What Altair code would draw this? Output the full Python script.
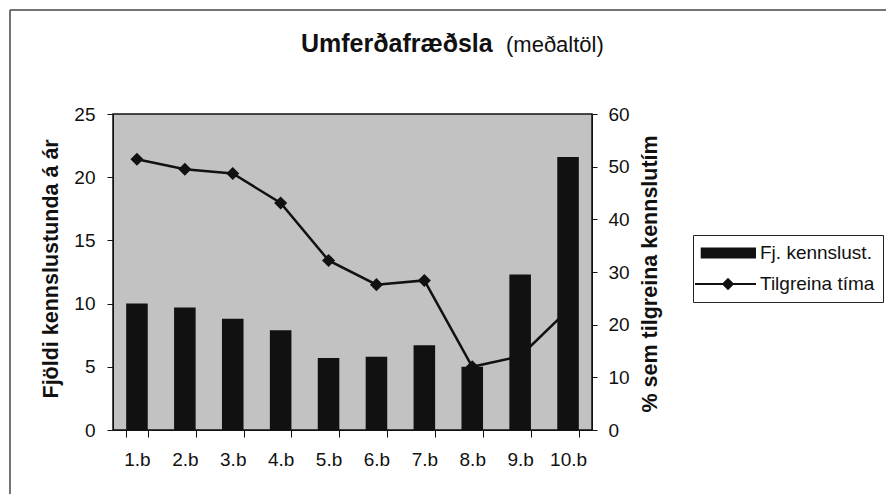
import altair as alt
import pandas as pd

categories = ["1.b", "2.b", "3.b", "4.b", "5.b", "6.b", "7.b", "8.b", "9.b", "10.b"]
kennslust = [10.0, 9.7, 8.8, 7.9, 5.7, 5.8, 6.7, 5.0, 12.3, 21.6]
tilgreina = [51.4, 49.5, 48.7, 43.1, 32.2, 27.6, 28.4, 12.0, 14.0, 22.8]
left_ticks = [0, 5, 10, 15, 20, 25]
right_ticks = [0, 10, 20, 30, 40, 50, 60]
series_names = ["Fj. kennslust.", "Tilgreina tíma"]

FONT = "Liberation Sans"
W, H = 479, 316

df_bar = pd.DataFrame({"flokkur": categories, "val": kennslust, "series": series_names[0]})
df_line = pd.DataFrame({"flokkur": categories, "val": tilgreina, "series": series_names[1]})

def xenc():
    return alt.X(
        "flokkur:N", sort=categories,
        scale=alt.Scale(paddingInner=0.55, paddingOuter=0.275),
        axis=alt.Axis(title=None, labelAngle=0, tickBand="extent", tickSize=7,
                      labelPadding=13, labelFontSize=19, labelFont=FONT,
                      labelColor="#111", domainColor="#111", tickColor="#111",
                      grid=False),
    )

right_axis = alt.Axis(
    orient="right", values=right_ticks, tickSize=5, labelPadding=11,
    labelFontSize=19, labelFont=FONT, labelColor="#111", domainColor="#111",
    tickColor="#111", grid=False,
    title="% sem tilgreina kennslutím", titleFont=FONT, titleFontSize=21.5,
    titleFontWeight="bold", titleColor="#111", titleAngle=270,
    titleX=58, titleY=298, titleAlign="left", titleBaseline="middle",
)
left_axis = alt.Axis(
    orient="left", values=left_ticks, tickSize=6, labelPadding=12,
    labelFontSize=19, labelFont=FONT, labelColor="#111", domainColor="#111",
    tickColor="#111", grid=False,
    title="Fjöldi kennslustunda á ár", titleFont=FONT, titleFontSize=21.5,
    titleFontWeight="bold", titleColor="#111", titleAngle=270,
    titleX=-62, titleY=284, titleAlign="left", titleBaseline="middle",
)

yr = alt.Y("val:Q", scale=alt.Scale(domain=[0, 60], nice=False), axis=right_axis)

line = alt.Chart(df_line).mark_line(color="#111", strokeWidth=2.5).encode(x=xenc(), y=yr)
points = alt.Chart(df_line).mark_point(shape="diamond", filled=True, size=170,
                                        color="#111", opacity=1).encode(x=xenc(), y=yr)

bar_sym = "M-1.03,-0.55H4.5V0.55H-1.03Z"
line_sym = "M-1.6,-0.1H4.5V0.1H-1.6ZM1.7,-0.62L2.32,0L1.7,0.62L1.08,0Z"
legend_pts = alt.Chart(df_line).mark_point(filled=True, opacity=0, color="#111").encode(
    x=xenc(), y=yr,
    shape=alt.Shape("series:N",
                    scale=alt.Scale(domain=series_names, range=[bar_sym, line_sym]),
                    legend=alt.Legend(
                        title=None, orient="none", legendX=580, legendY=121,
                        labelFont=FONT, labelFontSize=19, labelColor="#111",
                        labelOffset=39, labelLimit=400, padding=8, rowPadding=11,
                        symbolSize=400, symbolOpacity=1, symbolFillColor="#111",
                        symbolStrokeColor="#111", symbolStrokeWidth=0,
                        strokeColor="#222", fillColor="white",
                    )),
)

line_layer = alt.layer(line, points, legend_pts)

bars = alt.Chart(df_bar).mark_bar(color="#111").encode(
    x=xenc(),
    y=alt.Y("val:Q", scale=alt.Scale(domain=[0, 25], nice=False), axis=left_axis),
)

title_bold = alt.Chart(alt.Data(values=[{}])).mark_text(
    text="Umferðafræðsla", font=FONT, fontSize=25, fontWeight="bold",
    align="left", baseline="alphabetic", color="#111",
).encode(x=alt.value(188), y=alt.value(-62))
title_reg = alt.Chart(alt.Data(values=[{}])).mark_text(
    text="(meðaltöl)", font=FONT, fontSize=22, align="left",
    baseline="alphabetic", color="#111",
).encode(x=alt.value(393), y=alt.value(-62))

frame_top = alt.Chart(alt.Data(values=[{}])).mark_rule(color="#444", strokeWidth=1.5).encode(
    x=alt.value(-103), x2=alt.value(W + 300), y=alt.value(-104))
frame_left = alt.Chart(alt.Data(values=[{}])).mark_rule(color="#444", strokeWidth=1.5).encode(
    x=alt.value(-103), y=alt.value(-104), y2=alt.value(H + 80))

chart = alt.layer(frame_top, frame_left, line_layer, bars, title_bold, title_reg).resolve_scale(
    y="independent"
).properties(
    width=W, height=H,
    background="white",
    autosize=alt.AutoSizeParams(type="none"),
    padding={"left": 113, "top": 114, "right": 294, "bottom": 64},
).configure_view(
    fill="#c2c2c2", stroke="#111", strokeWidth=1.5
)

chart.save("out.html", embed_options={"renderer": "svg", "actions": False})
